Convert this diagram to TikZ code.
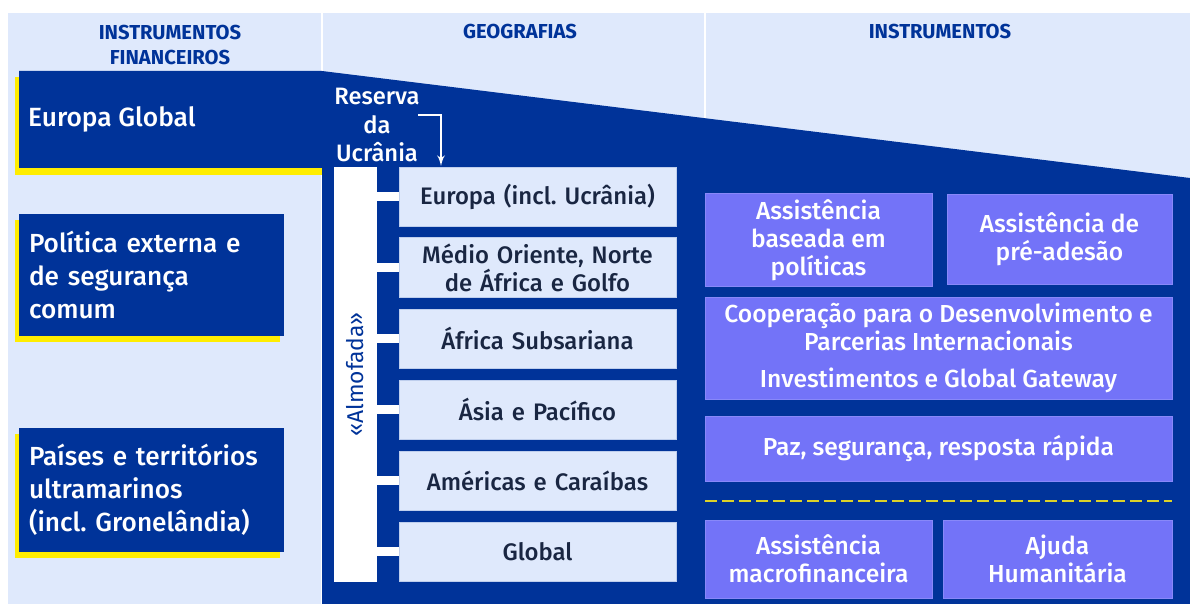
\documentclass[tikz,border=0pt]{standalone}
\usepackage{fontspec}
\setmainfont{Fira Sans Medium}[BoldFont={Fira Sans Bold}]
\newfontfamily\regfont{Fira Sans}
\usepackage{tikz}
\usetikzlibrary{arrows, shadows, positioning}
\frenchspacing
\definecolor{eublue}{RGB}{0,51,153}
\definecolor{paleblue}{RGB}{223,233,252}
\definecolor{periwinkle}{RGB}{115,115,248}
\definecolor{euyellow}{RGB}{255,237,0}
\definecolor{darktext}{RGB}{25,38,66}
\tikzstyle{header} = [text=eublue, align=center, font=\bfseries\fontsize{11.5}{14}\selectfont]
\tikzstyle{lefttext} = [text=white, font=\fontsize{15}{19}\selectfont]
\tikzstyle{instfin} = [fill=eublue, text=white, minimum width=5.3cm, minimum height=2.44cm,
text width=4.9cm, inner xsep=0.2cm, align=left, font=\fontsize{14.9}{18.8}\selectfont,
general shadow={fill=euyellow, shadow xshift=-0.08cm, shadow yshift=-0.12cm}]
\tikzstyle{geo} = [fill=paleblue, draw=paleblue!85!eublue, minimum width=5.54cm, minimum height=1.18cm,
text width=5.3cm, align=center, text=darktext, font=\fontsize{13.6}{16}\selectfont]
\tikzstyle{instr} = [fill=periwinkle, draw=periwinkle!85!white, text=white, align=center,
font=\fontsize{14}{16}\selectfont]
\tikzstyle{almofada} = [fill=white, rotate=90, minimum width=8.3cm, minimum height=0.86cm,
text=eublue, font=\regfont\fontsize{13}{15}\selectfont]
\tikzstyle{stub} = [white, line width=0.18cm]
\tikzstyle{dashline} = [draw={rgb,255:red,220;green,210;blue,40}, line width=0.04cm, dash pattern=on 0.24cm off 0.1cm]

\begin{document}
\begin{tikzpicture}[x=0.02cm,y=-0.02cm,node distance=1.42cm,>=latex']
  \useasboundingbox (0,0) rectangle (1190,604);
  \fill[paleblue] (8,13) rectangle (1190,604);
  \draw[white, line width=1.5pt] (322,13) -- (322,604);
  \draw[white, line width=1.5pt] (705,13) -- (705,604);
  \node[header] (hfin) at (170,45) {INSTRUMENTOS\\FINANCEIROS};
  \node[header] (hgeo) at (520,32) {GEOGRAFIAS};
  \node[header] (hins) at (940,32) {INSTRUMENTOS};
  % faixa azul
  \fill[euyellow] (15,77) rectangle (322,175);
  \fill[eublue] (19,71) -- (322,71) -- (1190,178) -- (1190,604) -- (322,604)
    -- (322,168) -- (19,168) -- cycle;
  \node[lefttext, anchor=west] (eg) at (22,119) {Europa Global};
  \node[instfin] (pesc) at (151.5,275) {Política externa e\\de segurança\\comum};
  \node[instfin, minimum height=2.48cm] (ptu) at (151.5,490) {Países e territórios\\ultramarinos\\(incl. Gronelândia)};
  % geografias
  \node[almofada] (alm) at (355.5,374.5) {«Almofada»};
  \node[geo] (g1) at (537.5,196.5) {Europa (incl. Ucrânia)};
  \node[geo] (g2) [below of=g1] {Médio Oriente, Norte\\de África e Golfo};
  \node[geo] (g3) [below of=g2] {África Subsariana};
  \node[geo] (g4) [below of=g3] {Ásia e Pacífico};
  \node[geo] (g5) [below of=g4] {Américas e Caraíbas};
  \node[geo] (g6) [below of=g5] {Global};
  \draw[stub] (alm.south |- g1) -- (g1.west);
  \draw[stub] (alm.south |- g2) -- (g2.west);
  \draw[stub] (alm.south |- g3) -- (g3.west);
  \draw[stub] (alm.south |- g4) -- (g4.west);
  \draw[stub] (alm.south |- g5) -- (g5.west);
  \draw[stub] (alm.south |- g6) -- (g6.west);
  \node[lefttext, align=center, font=\fontsize{13.5}{16}\selectfont] (res) at (377,125) {Reserva\\da\\Ucrânia};
  \coordinate (resin) at (418,115);
  \coordinate (resout) at (441,166);
  \draw[->, white, line width=1.1pt] (resin) -| (resout);
  % instrumentos
  \node[instr, minimum width=4.54cm, minimum height=1.84cm] (pol) at (818.5,240) {Assistência\\baseada em\\políticas};
  \node[instr, minimum width=4.5cm, minimum height=1.8cm] (ipa) at (1059.5,239) {Assistência de\\pré-adesão};
  \node[instr, minimum width=9.34cm, minimum height=2.04cm] (ndici) at (938.5,348) {Cooperação para o Desenvolvimento e\\Parcerias Internacionais\\[5pt]Investimentos e Global Gateway};
  \node[instr, minimum width=9.34cm, minimum height=1.3cm] (paz) at (938.5,448.5) {Paz, segurança, resposta rápida};
  \coordinate (dl) at (705,501);
  \coordinate (dr) at (1172,501);
  \draw[dashline] (dl) -- (dr);
  \node[instr, minimum width=4.54cm, minimum height=1.56cm] (mfa) at (818.5,559) {Assistência\\macrofinanceira};
  \node[instr, minimum width=4.58cm, minimum height=1.56cm] (hum) at (1057.5,559) {Ajuda\\Humanitária};
\end{tikzpicture}
\end{document}
